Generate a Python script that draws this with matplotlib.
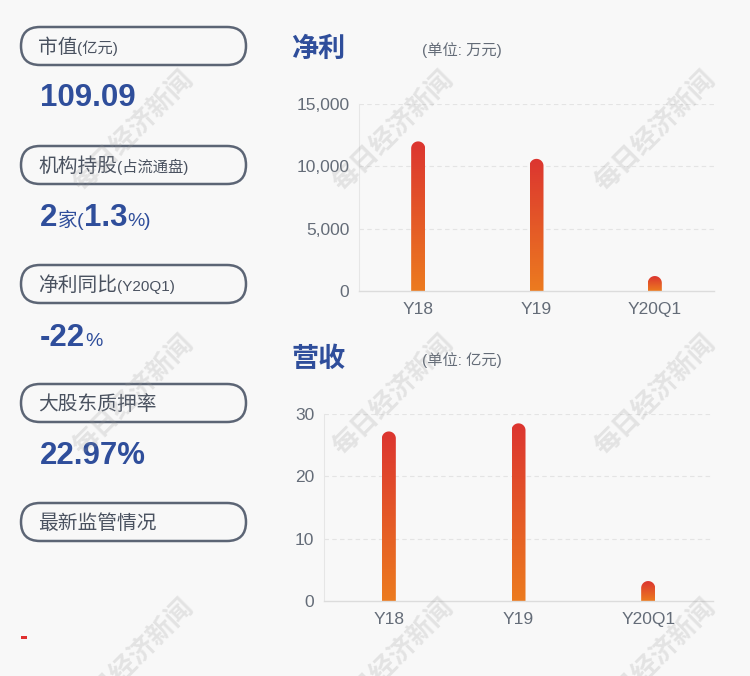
import numpy as np
import matplotlib
matplotlib.use("Agg")
import matplotlib.pyplot as plt
from matplotlib.patches import FancyBboxPatch, Rectangle, PathPatch
from matplotlib.path import Path
from matplotlib.colors import LinearSegmentedColormap

plt.rcParams['font.family'] = ['Liberation Sans', 'Noto Sans CJK SC', 'DejaVu Sans']

# ---------------- data ----------------
categories = ["Y18", "Y19", "Y20Q1"]
profit_values = [12000, 10600, 1200]          # 万元
revenue_values = [27.2, 28.5, 3.2]            # 亿元
profit_ticks = [0, 5000, 10000, 15000]
revenue_ticks = [0, 10, 20, 30]

pill_labels = [("市值", "(亿元)"), ("机构持股", "(占流通盘)"), ("净利同比", "(Y20Q1)"),
               ("大股东质押率", ""), ("最新监管情况", "")]
# value lines: list of (text, big?)
value_lines = [
    [("109.09", True)],
    [("2", True), ("家", False), ("(", False), ("1.3", True), ("%", False), (")", False)],
    [("-22", True), ("%", False)],
    [("22.97%", True)],
]

W, H = 750, 676
BG = "#f8f8f8"
BLUE = "#2f4e9b"
GRAY_TXT = "#646c78"
PILL = "#5c6575"

fig = plt.figure(figsize=(W / 100, H / 100), dpi=100, facecolor=BG)

# background overlay axes in pixel coordinates
bg = fig.add_axes([0, 0, 1, 1], zorder=0)
bg.set_xlim(0, W)
bg.set_ylim(H, 0)
bg.axis("off")
bg.set_facecolor("none")

renderer = fig.canvas.get_renderer()

def seq_text(ax, x, y, parts, **common):
    """Draw text segments one after another on a common baseline."""
    cur = x
    for txt, kw in parts:
        t = ax.text(cur, y, txt, va="baseline", ha="left", **common, **kw)
        bb = t.get_window_extent(renderer=renderer)
        inv = ax.transData.inverted()
        cur = inv.transform((bb.x1, bb.y0))[0]
    return cur

# pills
pill_tops = [27, 146, 265, 384, 503]
for (big, small), top in zip(pill_labels, pill_tops):
    box = FancyBboxPatch((21, top), 225, 38, boxstyle="round,pad=0,rounding_size=19",
                         fc="none", ec=PILL, lw=1.8)
    bg.add_patch(box)
    base = top + 26
    parts = [(big, dict(fontsize=14.2, color="#4a5260"))]
    if small:
        parts.append((small, dict(fontsize=11, color="#4a5260")))
    seq_text(bg, 38, base, parts)

# values
value_bases = [106, 226, 346, 464]
for line, base in zip(value_lines, value_bases):
    parts = []
    for txt, isbig in line:
        if isbig:
            parts.append((txt, dict(fontsize=22.5, fontweight="bold", color=BLUE)))
        else:
            parts.append((txt, dict(fontsize=14, color=BLUE)))
    seq_text(bg, 40, base, parts)

# red dash
bg.add_patch(Rectangle((21, 636), 6, 3, fc="#e03030", ec="none"))

# titles
bg.text(291, 50, "净利", fontsize=19.5, fontweight="bold", color=BLUE, va="center", ha="left")
bg.text(422, 50, "(单位: 万元)", fontsize=11, color=GRAY_TXT, va="center", ha="left")
bg.text(291, 360, "营收", fontsize=19.5, fontweight="bold", color=BLUE, va="center", ha="left")
bg.text(422, 360, "(单位: 亿元)", fontsize=11, color=GRAY_TXT, va="center", ha="left")

cmap = LinearSegmentedColormap.from_list("barg", ["#ec7b1f", "#dc3530"])
grad = np.linspace(0, 1, 256).reshape(-1, 1)


def bar_chart(left, right, top, bottom, values, ticks, fmt, bar_px=14):
    ax = fig.add_axes([left / W, 1 - bottom / H, (right - left) / W, (bottom - top) / H], zorder=1)
    ax.set_facecolor("none")
    ax.set_xlim(-0.5, len(categories) - 0.5)
    ax.set_ylim(0, ticks[-1])
    ax.set_yticks(ticks)
    ax.set_yticklabels([fmt(t) for t in ticks])
    ax.set_xticks(range(len(categories)))
    ax.set_xticklabels(categories)
    ax.tick_params(axis="both", length=0, labelsize=12.5, labelcolor=GRAY_TXT)
    ax.tick_params(axis="x", pad=8)
    ax.tick_params(axis="y", pad=7)
    for s in ["top", "right"]:
        ax.spines[s].set_visible(False)
    ax.spines["left"].set_color("#e6e6e6")
    ax.spines["left"].set_linewidth(0.8)
    ax.spines["bottom"].set_color("#dcdcdc")
    ax.spines["bottom"].set_linewidth(1.0)
    for t in ticks[1:]:
        ax.axhline(t, color="#e4e4e4", lw=0.8, ls=(0, (4, 3)), zorder=0)

    p0 = ax.transData.transform((0, 0))
    p1 = ax.transData.transform((1, 1))
    px_x = p1[0] - p0[0]
    px_y = p1[1] - p0[1]
    w = bar_px / px_x
    rx = w / 2
    ry = (bar_px / 2) / px_y
    theta = np.linspace(np.pi, 0, 40)
    for i, v in enumerate(values):
        xl, xr = i - rx, i + rx
        cap_y = max(v - ry, 0)
        verts = [(xl, 0), (xl, cap_y)]
        verts += list(zip(i + rx * np.cos(theta), cap_y + ry * np.sin(theta)))
        verts += [(xr, 0), (xl, 0)]
        path = Path(verts)
        patch = PathPatch(path, fc="none", ec="none")
        ax.add_patch(patch)
        im = ax.imshow(grad, extent=[xl, xr, 0, v], origin="lower", aspect="auto",
                       cmap=cmap, zorder=2, interpolation="bilinear")
        im.set_clip_path(patch)
    ax.set_xlim(-0.5, len(categories) - 0.5)
    ax.set_ylim(0, ticks[-1])
    return ax


bar_chart(359, 714, 104, 291, profit_values, profit_ticks, lambda t: f"{t:,}")
bar_chart(324, 713, 414, 601, revenue_values, revenue_ticks, lambda t: f"{t}")

# watermarks on top
top_ax = fig.add_axes([0, 0, 1, 1], zorder=5)
top_ax.set_xlim(0, W)
top_ax.set_ylim(H, 0)
top_ax.axis("off")
top_ax.set_facecolor("none")
for cx in [133, 393, 655]:
    for cy in [131, 395, 659]:
        top_ax.text(cx, cy, "每日经济新闻", rotation=45, ha="center", va="center",
                    fontsize=19, fontweight="bold", color="#9a9a9a", alpha=0.22,
                    rotation_mode="anchor")

fig.savefig("out.png", dpi=100, facecolor=BG)
